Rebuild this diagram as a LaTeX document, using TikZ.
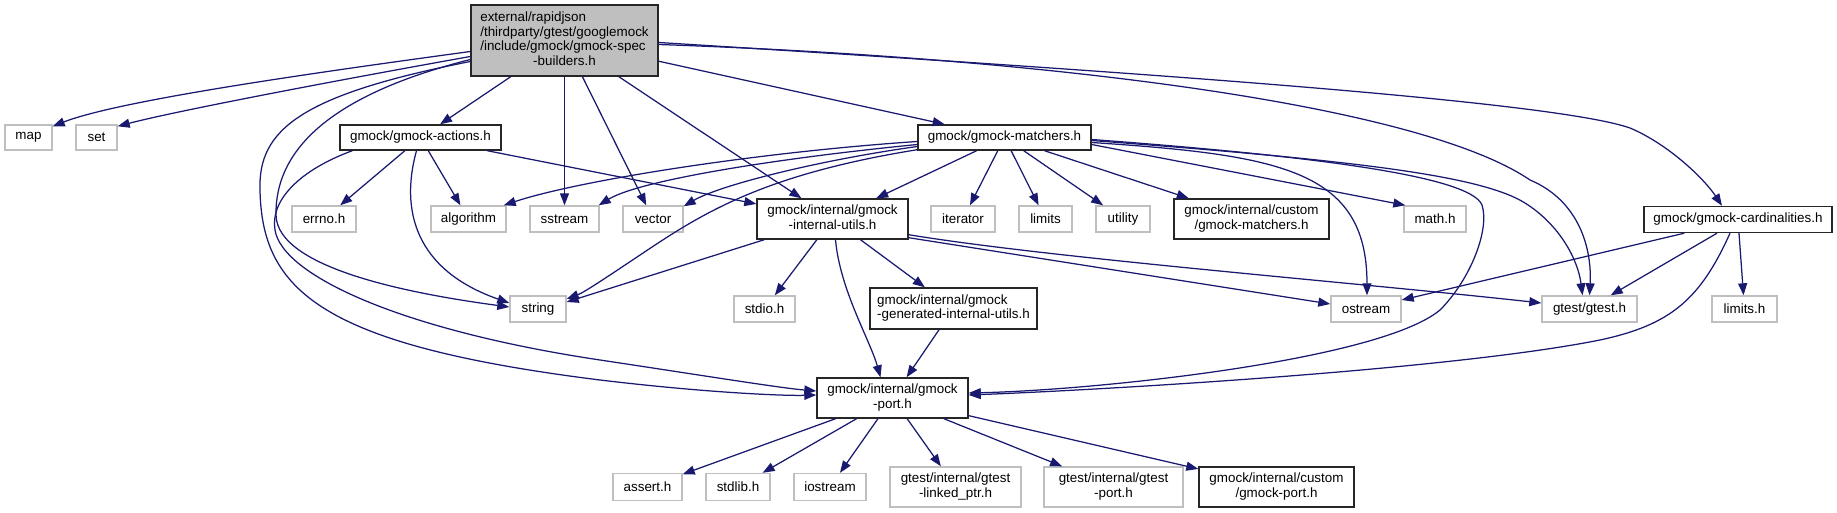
\documentclass[tikz,border=0pt]{standalone}
\usepackage{fontspec}
\setmainfont{Liberation Sans}
\usetikzlibrary{arrows.meta,calc}
\definecolor{edgec}{HTML}{191970}
\definecolor{gbord}{HTML}{BFBFBF}
\definecolor{rootfill}{HTML}{BFBFBF}
\newcommand{\twol}[2]{\begin{tabular}{@{}l@{}}#1\\\multicolumn{1}{@{}c@{}}{#2}\end{tabular}}
\begin{document}
\begin{tikzpicture}[x=1pt,y=-1pt,
  box/.style={rectangle, inner sep=0pt, line width=1.4pt, font=\fontsize{13.4}{14.6}\selectfont, align=center},
  doc/.style={box, draw=black!85, fill=white},
  sys/.style={box, draw=gbord, fill=white},
  dep/.style={draw=edgec, line width=1.25pt, -{Triangle[length=12pt,width=9pt]}}]
\useasboundingbox (0,0) rectangle (1837,513);
% rank 0
\node[box, draw=black!85, fill=rootfill, minimum width=187pt, minimum height=71pt] (root) at (564.5,40.5)
  {\begin{tabular}{@{}l@{}}external/rapidjson\\/thirdparty/gtest/googlemock\\/include/gmock/gmock-spec\\\multicolumn{1}{@{}c@{}}{-builders.h}\end{tabular}};
% rank 1
\node[sys, minimum width=47pt, minimum height=25pt] (map) at (28.5,137.5) {map};
\node[sys, minimum width=41pt, minimum height=25pt] (set) at (96.5,137.5) {set};
\node[doc, minimum width=161pt, minimum height=25pt] (act) at (420.5,137.5) {gmock/gmock-actions.h};
\node[doc, minimum width=173pt, minimum height=25pt] (mat) at (1004.5,137.5) {gmock/gmock-matchers.h};
% rank 2
\node[sys, minimum width=64pt, minimum height=26pt] (errno) at (324,219) {errno.h};
\node[sys, minimum width=75pt, minimum height=26pt] (algo) at (468.5,219) {algorithm};
\node[sys, minimum width=69pt, minimum height=26pt] (sstr) at (564.5,219) {sstream};
\node[sys, minimum width=60pt, minimum height=26pt] (vec) at (653,219) {vector};
\node[doc, minimum width=151pt, minimum height=40pt] (iu) at (832.5,219) {\twol{gmock/internal/gmock}{-internal-utils.h}};
\node[sys, minimum width=64pt, minimum height=26pt] (iter) at (963,219) {iterator};
\node[sys, minimum width=53pt, minimum height=26pt] (lim) at (1045.5,219) {limits};
\node[sys, minimum width=54pt, minimum height=26pt] (util) at (1123,219) {utility};
\node[doc, minimum width=155pt, minimum height=40pt] (cm) at (1251.5,219) {\twol{gmock/internal/custom}{/gmock-matchers.h}};
\node[sys, minimum width=62pt, minimum height=26pt] (math) at (1435,219) {math.h};
\node[doc, minimum width=188pt, minimum height=26pt] (card) at (1738,219.5) {gmock/gmock-cardinalities.h};
% rank 3
\node[sys, minimum width=56pt, minimum height=26pt] (str) at (538,309) {string};
\node[sys, minimum width=61pt, minimum height=26pt] (stdio) at (764.5,309) {stdio.h};
\node[doc, minimum width=167pt, minimum height=41pt] (gen) at (953.5,308.5) {\twol{gmock/internal/gmock}{-generated-internal-utils.h}};
\node[sys, minimum width=70pt, minimum height=26pt] (ost) at (1366,309) {ostream};
\node[sys, minimum width=95pt, minimum height=26pt] (gt) at (1589.5,309) {gtest/gtest.h};
\node[sys, minimum width=65pt, minimum height=26pt] (limh) at (1744.5,309) {limits.h};
% rank 4
\node[doc, minimum width=151pt, minimum height=40pt] (port) at (892.5,398) {\twol{gmock/internal/gmock}{-port.h}};
% rank 5
\node[sys, minimum width=69pt, minimum height=27pt] (asrt) at (647.5,487) {assert.h};
\node[sys, minimum width=64pt, minimum height=27pt] (stdl) at (738,487) {stdlib.h};
\node[sys, minimum width=72pt, minimum height=27pt] (ios) at (830,487) {iostream};
\node[sys, minimum width=131pt, minimum height=40pt] (lp) at (955.5,487) {\twol{gtest/internal/gtest}{-linked\_ptr.h}};
\node[sys, minimum width=139pt, minimum height=40pt] (gp) at (1113.5,487) {\twol{gtest/internal/gtest}{-port.h}};
\node[doc, minimum width=155pt, minimum height=40pt] (cp) at (1276.5,487) {\twol{gmock/internal/custom}{/gmock-port.h}};

% ---- edges from root
\draw[dep] ($(root.west)+(0,11)$) .. controls (320,72) and (120,100) .. ($(map.north east)+(0,2)$);
\draw[dep] ($(root.west)+(0,16)$) .. controls (350,78) and (180,110) .. ($(set.north east)+(0,2)$);
\draw[dep] ($(root.west)+(0,19)$) .. controls (330,95) and (275,150) .. (276,215)
   .. controls (277,270) and (420,295) .. ($(str.west)+(0,-2)$);
\draw[dep] ($(root.west)+(0,21)$) .. controls (300,95) and (258,130) .. (260,190)
   .. controls (262,290) and (320,345) .. (600,380)
   .. controls (700,392) and (780,396) .. ($(port.west)+(0,-3)$);
\draw[dep] (root) -- (act);
\draw[dep] (root) -- (sstr);
\draw[dep] (root) -- (vec);
\draw[dep] (root) -- (iu);
\draw[dep] (root) -- (mat);
\draw[dep] ($(root.east)+(0,4)$) .. controls (1050,58) and (1420,105) .. (1530,180)
   .. controls (1580,201) and (1592,250) .. (gt.north);
\draw[dep] ($(root.east)+(0,2)$) .. controls (1100,70) and (1550,100) .. (1630,128)
   .. controls (1670,145) and (1705,180) .. ($(card.north)+(-16,0)$);

% ---- edges from gmock-actions.h
\draw[dep] (act) -- (errno);
\draw[dep] (act) -- (algo);
\draw[dep] (act) -- (iu);
\draw[dep] ($(act.south)+(-4,0)$) .. controls (400,210) and (415,270) .. ($(str.west)+(0,-6)$);
\draw[dep] ($(act.south west)+(13,0)$) .. controls (300,170) and (270,200) .. (275,230)
   .. controls (282,275) and (400,330) .. (600,360)
   .. controls (700,375) and (780,388) .. ($(port.west)+(0,-7)$);

% ---- edges from gmock-matchers.h
\draw[dep] ($(mat.west)+(0,4)$) .. controls (760,152) and (580,180) .. ($(algo.north east)+(-3,0)$);
\draw[dep] ($(mat.west)+(0,7)$) .. controls (780,158) and (640,180) .. ($(sstr.north east)+(-1,0)$);
\draw[dep] ($(mat.west)+(0,9)$) .. controls (820,160) and (720,185) .. ($(vec.north east)+(0,1)$);
\draw[dep] ($(mat.south west)+(0,-1)$) .. controls (760,175) and (700,215) .. (640,255)
   .. controls (610,275) and (585,292) .. ($(str.east)+(0,-10)$);
\draw[dep] (mat) -- (iu);
\draw[dep] (mat) -- (iter);
\draw[dep] (mat) -- (lim);
\draw[dep] (mat) -- (util);
\draw[dep] (mat) -- (cm);
\draw[dep] ($(mat.east)+(0,7)$) -- ($(math.north west)+(2,0)$);
\draw[dep] ($(mat.east)+(0,5)$) .. controls (1280,155) and (1367,170) .. ($(ost.north)+(1,0)$);
\draw[dep] ($(mat.east)+(0,3)$) .. controls (1350,160) and (1480,175) .. (1525,203)
   .. controls (1560,225) and (1578,260) .. ($(gt.north)+(-7,0)$);
\draw[dep] ($(mat.east)+(0,2)$) .. controls (1300,155) and (1470,175) .. (1482,205)
   .. controls (1490,230) and (1470,280) .. (1440,310)
   .. controls (1380,360) and (1100,390) .. ($(port.east)+(0,-5)$);

% ---- edges from internal-utils
\draw[dep] ($(iu.south west)+(8,0)$) -- ($(str.east)+(0,-7)$);
\draw[dep] (iu) -- (stdio);
\draw[dep] (iu) -- (gen);
\draw[dep] ($(iu.south)+(3,0)$) .. controls (840,290) and (870,340) .. ($(port.north)+(-12,0)$);
\draw[dep] ($(iu.south east)+(0,-2)$) -- ($(ost.west)+(0,-5)$);
\draw[dep] ($(iu.south east)+(0,-5)$) .. controls (1050,258) and (1350,282) .. ($(gt.west)+(0,-6)$);

% ---- generated -> port
\draw[dep] (gen) -- (port);

% ---- edges from cardinalities
\draw[dep] ($(card.south west)+(41,0)$) -- ($(ost.east)+(0,-9)$);
\draw[dep] ($(card.south)+(-21,0)$) -- ($(gt.north east)+(-27,0)$);
\draw[dep] (card) -- (limh);
\draw[dep] ($(card.south)+(-8,0)$) .. controls (1700,300) and (1670,325) .. (1600,340)
   .. controls (1450,370) and (1100,390) .. ($(port.east)+(0,-3)$);

% ---- edges from port
\draw[dep] (port) -- (asrt);
\draw[dep] (port) -- (stdl);
\draw[dep] (port) -- (ios);
\draw[dep] (port) -- (lp);
\draw[dep] (port) -- (gp);
\draw[dep] (port) -- (cp);
\end{tikzpicture}
\end{document}
